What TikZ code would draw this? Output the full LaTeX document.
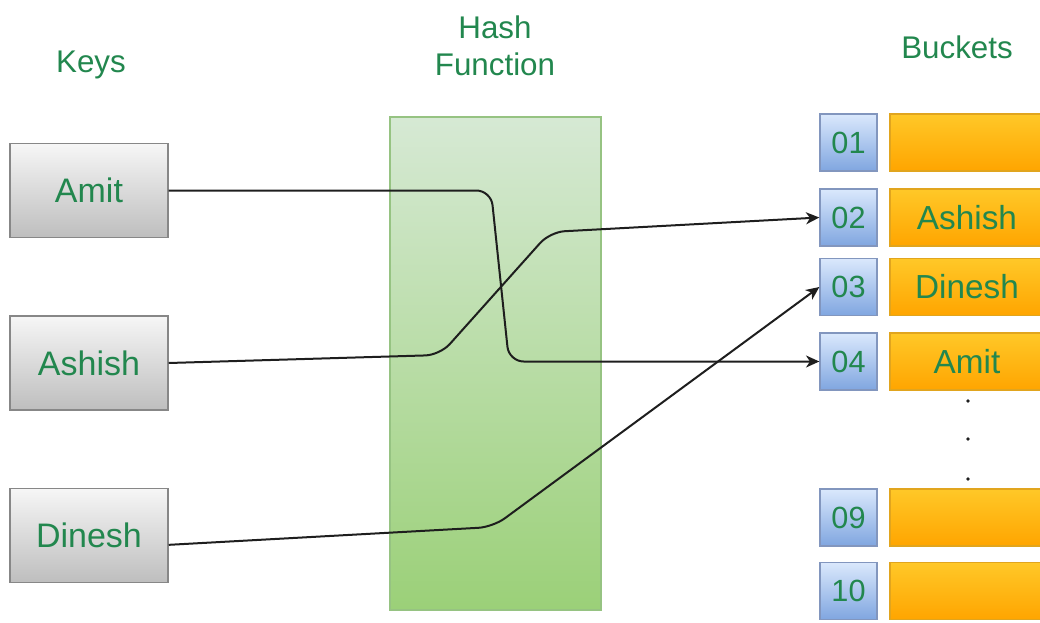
\documentclass[tikz,border=0pt]{standalone}
\usepackage{fontspec}
\setmainfont{Liberation Sans}
\usetikzlibrary{arrows.meta}

\definecolor{txtgreen}{RGB}{34,135,78}
\definecolor{keytop}{RGB}{246,246,246}
\definecolor{keybot}{RGB}{190,190,190}
\definecolor{keyline}{RGB}{135,135,135}
\definecolor{hashtop}{RGB}{214,233,212}
\definecolor{hashbot}{RGB}{155,208,120}
\definecolor{hashline}{RGB}{150,195,130}
\definecolor{idxtop}{RGB}{218,232,252}
\definecolor{idxbot}{RGB}{128,166,224}
\definecolor{idxline}{RGB}{130,150,190}
\definecolor{bartop}{RGB}{255,200,40}
\definecolor{barbot}{RGB}{255,165,0}
\definecolor{barline}{RGB}{225,165,30}
\definecolor{wire}{RGB}{30,30,30}

\tikzset{
  title/.style={text=txtgreen, font=\fontsize{23.5}{28}\selectfont, inner sep=0pt, anchor=base},
  keybox/.style={draw=keyline, line width=1.1pt, top color=keytop, bottom color=keybot,
    minimum width=118.5pt, minimum height=70.5pt, inner sep=0pt,
    text=txtgreen, font=\fontsize{25.5}{30}\selectfont},
  hashbox/.style={draw=hashline, line width=0.8pt, top color=hashtop, bottom color=hashbot,
    minimum width=158.25pt, minimum height=369.75pt, inner sep=0pt},
  idxbox/.style={draw=idxline, line width=1pt, top color=idxtop, bottom color=idxbot,
    minimum width=42.75pt, minimum height=42.75pt, inner sep=0pt,
    text=txtgreen, font=\fontsize{23}{27}\selectfont},
  barbox/.style={draw=barline, line width=0.8pt, top color=bartop, bottom color=barbot,
    minimum width=115.5pt, minimum height=42.75pt, inner sep=0pt,
    text=txtgreen, font=\fontsize{25}{30}\selectfont},
  wireline/.style={draw=wire, line width=1.5pt, rounded corners=11pt,
    -{Stealth[length=10pt,width=9pt,inset=3pt]}},
}

\begin{document}
\begin{tikzpicture}[x=0.75pt,y=-0.75pt]
\useasboundingbox (0,0) rectangle (1040,622);

% column titles
\node[title] (tkeys) at (91,72) {Keys};
\node[title] (thash1) at (495,38) {Hash};
\node[title] (thash2) at (495,75) {Function};
\node[title] (tbuck) at (957,58) {Buckets};

% hash function block
\node[hashbox] (hash) at (495.5,363.5) {};

% keys
\node[keybox] (amit) at (89,190.5) {Amit};
\node[keybox] (ashish) at (89,363) {Ashish};
\node[keybox] (dinesh) at (89,535.5) {Dinesh};

% buckets: index cells and slots
\node[idxbox] (b01) at (848.5,142.5) {01};
\node[idxbox] (b02) at (848.5,217.5) {02};
\node[idxbox] (b03) at (848.5,287) {03};
\node[idxbox] (b04) at (848.5,361.5) {04};
\node[idxbox] (b09) at (848.5,517.5) {09};
\node[idxbox] (b10) at (848.5,591) {10};

\node[barbox] (s01) at (967,142.5) {};
\node[barbox] (s02) at (967,217.5) {Ashish};
\node[barbox] (s03) at (967,287) {Dinesh};
\node[barbox] (s04) at (967,361.5) {Amit};
\node[barbox] (s09) at (967,517.5) {};
\node[barbox] (s10) at (967,591) {};

% ellipsis between slot 04 and slot 09
\fill[wire] (968,401) circle[radius=1.4pt];
\fill[wire] (968,439) circle[radius=1.4pt];
\fill[wire] (968,479) circle[radius=1.4pt];

% hashing connectors
\draw[wireline] (amit.east) -- (491,190.5) -- (509,361.5) -- (b04.west);
\draw[wireline] (ashish.east) -- (440,355) -- (550,232) -- (b02.west);
\draw[wireline] ([yshift=-7pt]dinesh.east) -- (493,527) -- (b03.west);
\end{tikzpicture}
\end{document}
